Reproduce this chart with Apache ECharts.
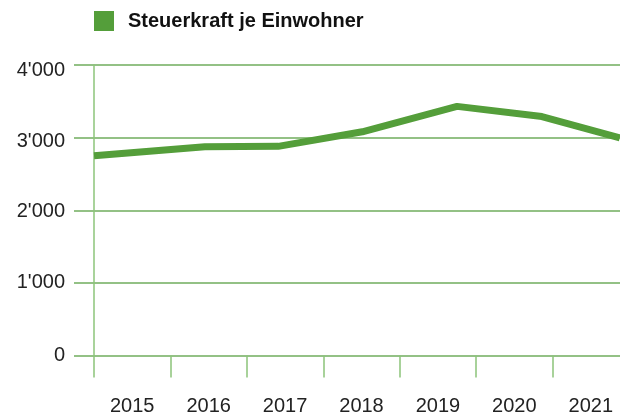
<!DOCTYPE html>
<html><head><meta charset="utf-8">
<script src="https://cdn.jsdelivr.net/npm/echarts@6/dist/echarts.min.js"></script>
<style>html,body{margin:0;padding:0;overflow:hidden;background:#fff;width:620px;height:418px}#c{width:640px;height:418px}</style>
</head><body><div id="c"></div>
<script>
const categories = ['2015','2016','2017','2018','2019','2020','2021'];
const pointYears = [2015, 2016.45, 2017.41, 2018.51, 2019.75, 2020.86, 2021.88];
const values = [2750, 2875, 2880, 3080, 3430, 3290, 2995];
const yTicks = [0, 1000, 2000, 3000, 4000];
const seriesName = 'Steuerkraft je Einwohner';

const FONT = '"Liberation Sans", Arial, sans-serif';
const GREEN = '#549e3a';
const GRID = '#6fac5c';
const LIGHT = '#8cc47a';
const fmt = v => String(v).replace(/\B(?=(\d{3})+(?!\d))/g, "'");
const labelShift = {4000:'s5', 3000:'s4', 2000:'s1'};

const chart = echarts.init(document.getElementById('c'), null, {renderer:'canvas'});
chart.setOption({
  animation:false,
  textStyle:{fontFamily:FONT},
  legend:{left:94, top:11, padding:0, itemWidth:20, itemHeight:20, icon:'rect',
    textStyle:{fontFamily:FONT, fontSize:20, fontWeight:'bold', color:'#111', padding:[0,0,0,9]},
    data:[seriesName]},
  grid:[
    {left:94, right:11, top:65, bottom:62.5},
    {left:74, width:20, top:65, bottom:62.5}
  ],
  xAxis:[
    {type:'category', gridIndex:0, data:categories, boundaryGap:true,
      axisLine:{show:false},
      axisTick:{show:true, length:22, lineStyle:{color:LIGHT, width:1.5}},
      axisLabel:{fontFamily:FONT, fontSize:20, color:'#222', margin:41}},
    {type:'value', gridIndex:0, min:2015, max:2022, show:false},
    {type:'value', gridIndex:1, min:0, max:1, show:false}
  ],
  yAxis:[
    {type:'value', gridIndex:0, min:0, max:4000, interval:1000,
      axisLine:{show:true, lineStyle:{color:LIGHT, width:1.5}},
      axisTick:{show:false}, axisLabel:{show:false},
      splitLine:{show:true, lineStyle:{color:GRID, width:1.5}}},
    {type:'value', gridIndex:1, min:0, max:4000, interval:1000,
      axisLine:{show:false}, axisTick:{show:false},
      axisLabel:{fontFamily:FONT, fontSize:20, color:'#222', margin:9,
        formatter:v => {
          if (!yTicks.includes(v)) return '';
          const s = labelShift[v];
          return s ? '{' + s + '|' + fmt(v) + '}' : fmt(v);
        },
        rich:{
          s5:{fontFamily:FONT, fontSize:20, color:'#222', padding:[10,0,0,0]},
          s4:{fontFamily:FONT, fontSize:20, color:'#222', padding:[8,0,0,0]},
          s1:{fontFamily:FONT, fontSize:20, color:'#222', padding:[2,0,0,0]}
        }},
      splitLine:{show:true, lineStyle:{color:GRID, width:1.5}}}
  ],
  series:[{
    name:seriesName, type:'line', xAxisIndex:1, yAxisIndex:0,
    data:pointYears.map((x,i)=>[x, values[i]]),
    symbol:'none', smooth:false,
    lineStyle:{color:GREEN, width:7},
    itemStyle:{color:GREEN}
  }]
});
</script></body></html>
